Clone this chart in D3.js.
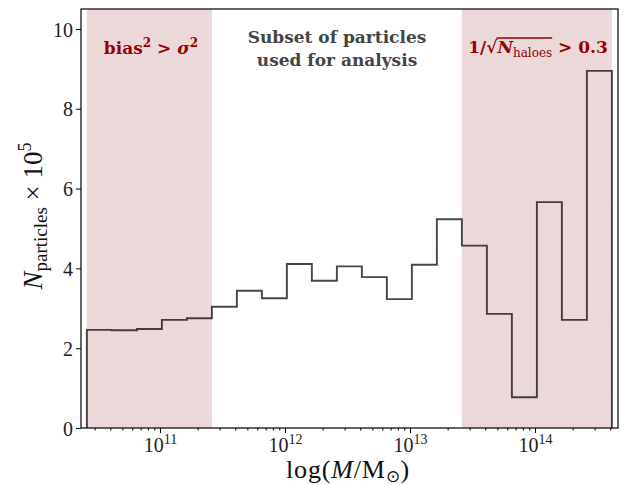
<!DOCTYPE html>
<html>
<head>
<meta charset="utf-8">
<title>histogram</title>
<script src="https://cdn.jsdelivr.net/npm/d3@7"></script>
<style>
  body{margin:0;background:#fff;}
  .tick text{font-family:"Liberation Serif",serif;font-size:20px;fill:#222;}
  .lbl{font-family:"Liberation Serif",serif;fill:#111;}
</style>
</head>
<body>
<script>
// log10 of bin edges (M / Msun)
var logEdges = [10.415, 10.615, 10.815, 11.015, 11.215, 11.415, 11.615, 11.815, 12.015, 12.215, 12.415,
                12.615, 12.815, 13.015, 13.215, 13.415, 13.615, 13.815, 14.015, 14.215, 14.415, 14.615];
// N_particles / 1e5 per bin
var counts = [2.46, 2.45, 2.48, 2.71, 2.75, 3.04, 3.44, 3.25, 4.11, 3.69, 4.05,
              3.78, 3.23, 4.09, 5.23, 4.57, 2.86, 0.77, 5.66, 2.71, 8.95];
// excluded ranges (log10 M)
var excluded = [[10.415, 11.415], [13.415, 14.615]];
var yTicks = [0, 2, 4, 6, 8, 10];
var xMajor = [11, 12, 13, 14];

var width = 625, height = 485;
var mL = 81, mR = 618, mT = 9, mB = 428;

var svg = d3.select("body").append("svg")
  .attr("width", width).attr("height", height);

var x = d3.scaleLog().domain([Math.pow(10, 10.368), Math.pow(10, 14.664)]).range([mL, mR]);
var y = d3.scaleLinear().domain([0, 10.5]).range([mB, mT]);

// shaded bands
svg.selectAll("rect.band").data(excluded).enter().append("rect")
  .attr("class", "band")
  .attr("x", function(d){ return x(Math.pow(10, d[0])); })
  .attr("width", function(d){ return x(Math.pow(10, d[1])) - x(Math.pow(10, d[0])); })
  .attr("y", mT).attr("height", mB - mT)
  .attr("fill", "#ecd8d8");

// step histogram outline
var pts = [[logEdges[0], 0]];
counts.forEach(function(c, i){
  pts.push([logEdges[i], c]);
  pts.push([logEdges[i + 1], c]);
});
pts.push([logEdges[logEdges.length - 1], 0]);
var line = d3.line()
  .x(function(d){ return x(Math.pow(10, d[0])); })
  .y(function(d){ return y(d[1]); });
svg.append("path").attr("d", line(pts))
  .attr("fill", "none").attr("stroke", "#000").attr("stroke-opacity", 0.72)
  .attr("stroke-width", 1.9).attr("stroke-linejoin", "miter");

// minor ticks
var minor = [];
for (var e = 10; e <= 14; e++) for (var k = 2; k <= 9; k++) minor.push(k * Math.pow(10, e));
minor = minor.filter(function(v){ return v >= x.domain()[0] && v <= x.domain()[1]; });
svg.append("g").attr("transform", "translate(0," + mB + ")")
  .call(d3.axisBottom(x).tickValues(minor).tickFormat("").tickSize(2.5))
  .call(function(g){ g.select(".domain").remove(); });

// x axis major
var gx = svg.append("g").attr("transform", "translate(0," + mB + ")")
  .call(d3.axisBottom(x).tickValues(xMajor.map(function(p){ return Math.pow(10, p); }))
    .tickFormat("").tickSize(5));
gx.select(".domain").remove();
gx.selectAll(".tick").each(function(d, i){
  var t = d3.select(this).append("text").attr("y", 24).attr("x", 0)
    .attr("text-anchor", "middle").attr("fill", "#222");
  t.append("tspan").text("10");
  t.append("tspan").attr("dy", -8).attr("font-size", "14px").text(xMajor[i]);
});

// y axis
var gy = svg.append("g").attr("transform", "translate(" + mL + ",0)")
  .call(d3.axisLeft(y).tickValues(yTicks).tickSize(5).tickPadding(3));
gy.select(".domain").remove();
gy.selectAll(".tick text").attr("dy", "0.36em");

svg.selectAll(".tick line").attr("stroke", "#000");

// frame
svg.append("rect").attr("x", mL).attr("y", mT)
  .attr("width", mR - mL).attr("height", mB - mT)
  .attr("fill", "none").attr("stroke", "#000").attr("stroke-width", 1.2);

// x label
var xl = svg.append("text").attr("class", "lbl").attr("x", 348).attr("y", 478)
  .attr("text-anchor", "middle").attr("font-size", "26px").attr("letter-spacing", "0.8px");
xl.append("tspan").text("log(");
xl.append("tspan").attr("font-style", "italic").text("M");
xl.append("tspan").text("/M");
xl.append("tspan").attr("font-size", "17px").attr("dy", 4).text("\u2299");
xl.append("tspan").attr("dy", -4).text(")");

// y label
var yl = svg.append("text").attr("class", "lbl")
  .attr("transform", "translate(42,216) rotate(-90)")
  .attr("text-anchor", "middle").attr("font-size", "27px");
yl.append("tspan").attr("font-style", "italic").text("N");
yl.append("tspan").attr("font-size", "19px").attr("dy", 5).text("particles");
yl.append("tspan").attr("dy", -5).text(" \u00d7 10");
yl.append("tspan").attr("font-size", "18px").attr("dy", -11).text("5");

// annotations
var sub = svg.append("text").attr("x", 337).attr("y", 43)
  .attr("text-anchor", "middle").attr("font-family", "DejaVu Serif, serif")
  .attr("font-weight", "bold").attr("font-size", "17px").attr("fill", "#444");
sub.append("tspan").attr("x", 337).text("Subset of particles");
sub.append("tspan").attr("x", 337).attr("dy", 23).text("used for analysis");

var red = "#990000";
var a1 = svg.append("text").attr("x", 151).attr("y", 54)
  .attr("text-anchor", "middle").attr("font-family", "DejaVu Serif, serif")
  .attr("font-weight", "bold").attr("font-size", "17px").attr("fill", red);
a1.append("tspan").text("bias");
a1.append("tspan").attr("font-size", "12px").attr("dy", -7).text("2");
a1.append("tspan").attr("dy", 7).text(" > ");
a1.append("tspan").attr("font-style", "italic").text("\u03c3");
a1.append("tspan").attr("font-size", "12px").attr("dy", -7).text("2");

var a2 = svg.append("text").attr("x", 538).attr("y", 53)
  .attr("text-anchor", "middle").attr("font-family", "DejaVu Serif, serif")
  .attr("font-weight", "bold").attr("font-size", "17px").attr("fill", red);
a2.append("tspan").text("1/\u221a");
var nT = a2.append("tspan").attr("font-style", "italic").text("N");
var hT = a2.append("tspan").attr("font-size", "12px").attr("font-weight", "normal").attr("dy", 4).text("haloes");
a2.append("tspan").attr("dy", -4).text(" > 0.3");
var nb = nT.node().getBBox(), hb = hT.node().getBBox();
svg.append("line").attr("x1", nb.x).attr("x2", hb.x + hb.width)
  .attr("y1", nb.y + 1).attr("y2", nb.y + 1)
  .attr("stroke", red).attr("stroke-width", 1.4);
</script>
</body>
</html>
